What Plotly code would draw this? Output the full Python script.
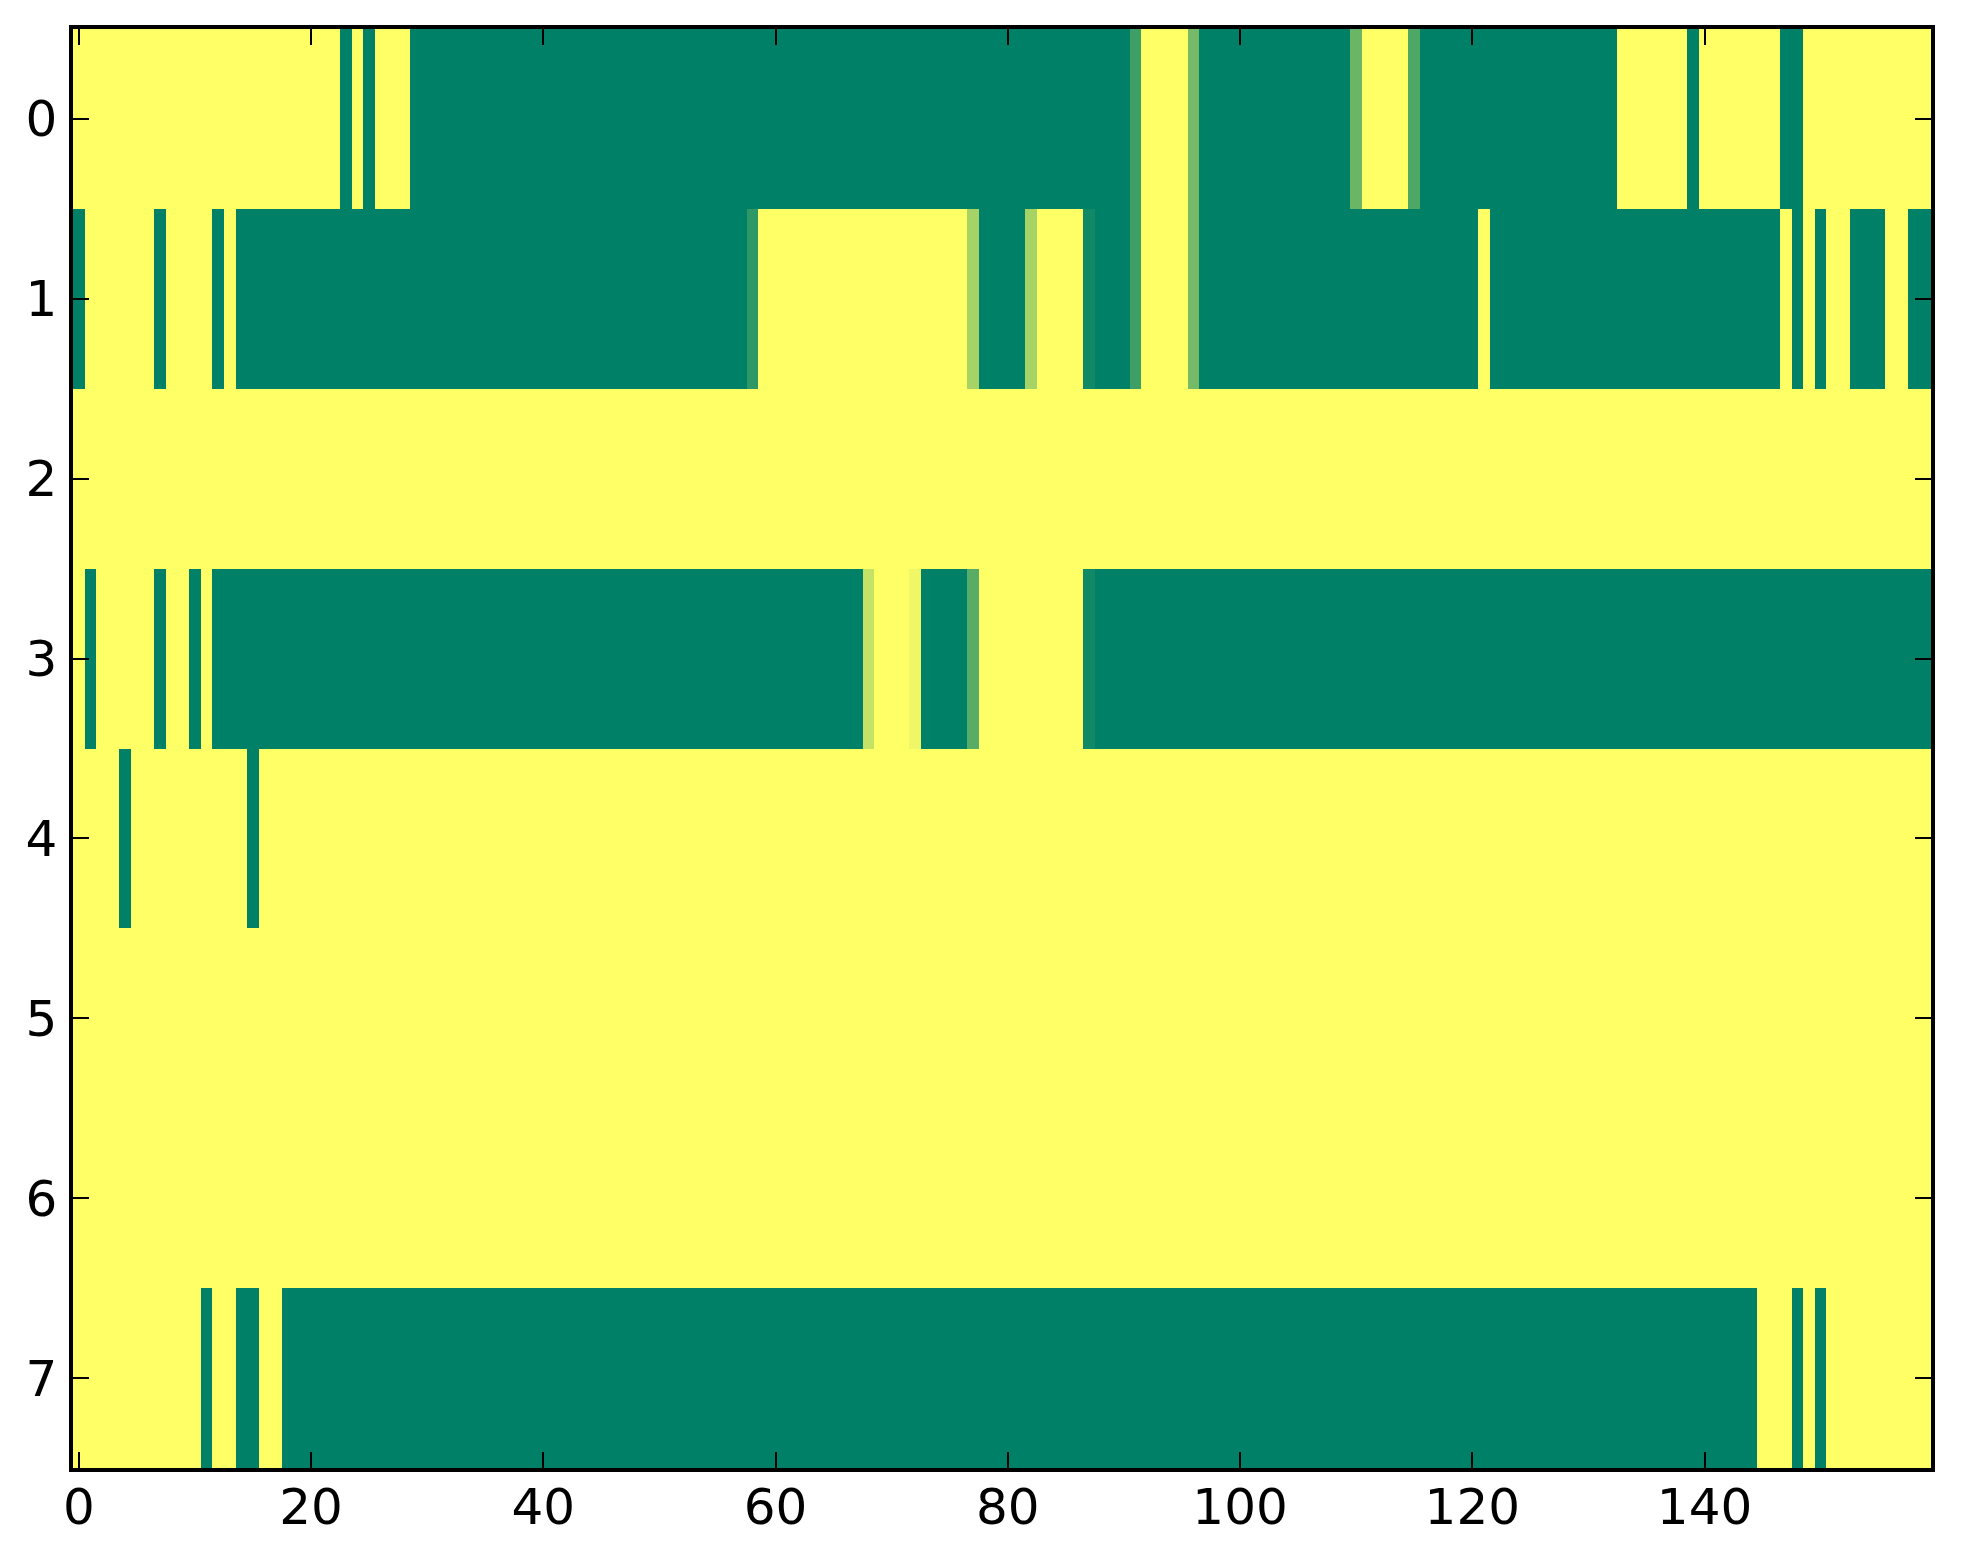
import plotly.graph_objects as go

# 8 rows x 160 columns, 0 = green end, 1 = yellow end of the "summer" map
row_0 = [
    1, 1, 1, 1, 1, 1, 1, 1, 1, 1, 1, 1, 1, 1, 1, 1, 1, 1, 1, 1,
    1, 1, 1, 0, 1, 0, 1, 1, 1, 0, 0, 0, 0, 0, 0, 0, 0, 0, 0, 0,
    0, 0, 0, 0, 0, 0, 0, 0, 0, 0, 0, 0, 0, 0, 0, 0, 0, 0, 0, 0,
    0, 0, 0, 0, 0, 0, 0, 0, 0, 0, 0, 0, 0, 0, 0, 0, 0, 0, 0, 0,
    0, 0, 0, 0, 0, 0, 0, 0, 0, 0, 0, .24, 1, 1, 1, 1, .46, 0, 0, 0,
    0, 0, 0, 0, 0, 0, 0, 0, 0, 0, .42, 1, 1, 1, 1, .31, 0, 0, 0, 0,
    0, 0, 0, 0, 0, 0, 0, 0, 0, 0, 0, 0, 0, 1, 1, 1, 1, 1, 1, 0,
    1, 1, 1, 1, 1, 1, 1, 0, 0, 1, 1, 1, 1, 1, 1, 1, 1, 1, 1, 1,
]
row_1 = [
    0, 1, 1, 1, 1, 1, 1, 0, 1, 1, 1, 1, 0, 1, 0, 0, 0, 0, 0, 0,
    0, 0, 0, 0, 0, 0, 0, 0, 0, 0, 0, 0, 0, 0, 0, 0, 0, 0, 0, 0,
    0, 0, 0, 0, 0, 0, 0, 0, 0, 0, 0, 0, 0, 0, 0, 0, 0, 0, .18, 1,
    1, 1, 1, 1, 1, 1, 1, 1, 1, 1, 1, 1, 1, 1, 1, 1, 1, .65, 0, 0,
    0, 0, .65, 1, 1, 1, 1, .07, 0, 0, 0, .24, 1, 1, 1, 1, .46, 0, 0, 0,
    0, 0, 0, 0, 0, 0, 0, 0, 0, 0, 0, 0, 0, 0, 0, 0, 0, 0, 0, 0,
    0, 1, 0, 0, 0, 0, 0, 0, 0, 0, 0, 0, 0, 0, 0, 0, 0, 0, 0, 0,
    0, 0, 0, 0, 0, 0, 0, 1, 0, 1, 0, 1, 1, 0, 0, 0, 1, 1, 0, 0,
]
row_2 = [
    1, 1, 1, 1, 1, 1, 1, 1, 1, 1, 1, 1, 1, 1, 1, 1, 1, 1, 1, 1,
    1, 1, 1, 1, 1, 1, 1, 1, 1, 1, 1, 1, 1, 1, 1, 1, 1, 1, 1, 1,
    1, 1, 1, 1, 1, 1, 1, 1, 1, 1, 1, 1, 1, 1, 1, 1, 1, 1, 1, 1,
    1, 1, 1, 1, 1, 1, 1, 1, 1, 1, 1, 1, 1, 1, 1, 1, 1, 1, 1, 1,
    1, 1, 1, 1, 1, 1, 1, 1, 1, 1, 1, 1, 1, 1, 1, 1, 1, 1, 1, 1,
    1, 1, 1, 1, 1, 1, 1, 1, 1, 1, 1, 1, 1, 1, 1, 1, 1, 1, 1, 1,
    1, 1, 1, 1, 1, 1, 1, 1, 1, 1, 1, 1, 1, 1, 1, 1, 1, 1, 1, 1,
    1, 1, 1, 1, 1, 1, 1, 1, 1, 1, 1, 1, 1, 1, 1, 1, 1, 1, 1, 1,
]
row_3 = [
    1, 0, 1, 1, 1, 1, 1, 0, 1, 1, 0, 1, 0, 0, 0, 0, 0, 0, 0, 0,
    0, 0, 0, 0, 0, 0, 0, 0, 0, 0, 0, 0, 0, 0, 0, 0, 0, 0, 0, 0,
    0, 0, 0, 0, 0, 0, 0, 0, 0, 0, 0, 0, 0, 0, 0, 0, 0, 0, 0, 0,
    0, 0, 0, 0, 0, 0, 0, 0, .77, 1, 1, 1, .94, 0, 0, 0, 0, .35, 1, 1,
    1, 1, 1, 1, 1, 1, 1, .07, 0, 0, 0, 0, 0, 0, 0, 0, 0, 0, 0, 0,
    0, 0, 0, 0, 0, 0, 0, 0, 0, 0, 0, 0, 0, 0, 0, 0, 0, 0, 0, 0,
    0, 0, 0, 0, 0, 0, 0, 0, 0, 0, 0, 0, 0, 0, 0, 0, 0, 0, 0, 0,
    0, 0, 0, 0, 0, 0, 0, 0, 0, 0, 0, 0, 0, 0, 0, 0, 0, 0, 0, 0,
]
row_4 = [
    1, 1, 1, 1, 0, 1, 1, 1, 1, 1, 1, 1, 1, 1, 1, 0, 1, 1, 1, 1,
    1, 1, 1, 1, 1, 1, 1, 1, 1, 1, 1, 1, 1, 1, 1, 1, 1, 1, 1, 1,
    1, 1, 1, 1, 1, 1, 1, 1, 1, 1, 1, 1, 1, 1, 1, 1, 1, 1, 1, 1,
    1, 1, 1, 1, 1, 1, 1, 1, 1, 1, 1, 1, 1, 1, 1, 1, 1, 1, 1, 1,
    1, 1, 1, 1, 1, 1, 1, 1, 1, 1, 1, 1, 1, 1, 1, 1, 1, 1, 1, 1,
    1, 1, 1, 1, 1, 1, 1, 1, 1, 1, 1, 1, 1, 1, 1, 1, 1, 1, 1, 1,
    1, 1, 1, 1, 1, 1, 1, 1, 1, 1, 1, 1, 1, 1, 1, 1, 1, 1, 1, 1,
    1, 1, 1, 1, 1, 1, 1, 1, 1, 1, 1, 1, 1, 1, 1, 1, 1, 1, 1, 1,
]
row_5 = [
    1, 1, 1, 1, 1, 1, 1, 1, 1, 1, 1, 1, 1, 1, 1, 1, 1, 1, 1, 1,
    1, 1, 1, 1, 1, 1, 1, 1, 1, 1, 1, 1, 1, 1, 1, 1, 1, 1, 1, 1,
    1, 1, 1, 1, 1, 1, 1, 1, 1, 1, 1, 1, 1, 1, 1, 1, 1, 1, 1, 1,
    1, 1, 1, 1, 1, 1, 1, 1, 1, 1, 1, 1, 1, 1, 1, 1, 1, 1, 1, 1,
    1, 1, 1, 1, 1, 1, 1, 1, 1, 1, 1, 1, 1, 1, 1, 1, 1, 1, 1, 1,
    1, 1, 1, 1, 1, 1, 1, 1, 1, 1, 1, 1, 1, 1, 1, 1, 1, 1, 1, 1,
    1, 1, 1, 1, 1, 1, 1, 1, 1, 1, 1, 1, 1, 1, 1, 1, 1, 1, 1, 1,
    1, 1, 1, 1, 1, 1, 1, 1, 1, 1, 1, 1, 1, 1, 1, 1, 1, 1, 1, 1,
]
row_6 = [
    1, 1, 1, 1, 1, 1, 1, 1, 1, 1, 1, 1, 1, 1, 1, 1, 1, 1, 1, 1,
    1, 1, 1, 1, 1, 1, 1, 1, 1, 1, 1, 1, 1, 1, 1, 1, 1, 1, 1, 1,
    1, 1, 1, 1, 1, 1, 1, 1, 1, 1, 1, 1, 1, 1, 1, 1, 1, 1, 1, 1,
    1, 1, 1, 1, 1, 1, 1, 1, 1, 1, 1, 1, 1, 1, 1, 1, 1, 1, 1, 1,
    1, 1, 1, 1, 1, 1, 1, 1, 1, 1, 1, 1, 1, 1, 1, 1, 1, 1, 1, 1,
    1, 1, 1, 1, 1, 1, 1, 1, 1, 1, 1, 1, 1, 1, 1, 1, 1, 1, 1, 1,
    1, 1, 1, 1, 1, 1, 1, 1, 1, 1, 1, 1, 1, 1, 1, 1, 1, 1, 1, 1,
    1, 1, 1, 1, 1, 1, 1, 1, 1, 1, 1, 1, 1, 1, 1, 1, 1, 1, 1, 1,
]
row_7 = [
    1, 1, 1, 1, 1, 1, 1, 1, 1, 1, 1, 0, 1, 1, 0, 0, 1, 1, 0, 0,
    0, 0, 0, 0, 0, 0, 0, 0, 0, 0, 0, 0, 0, 0, 0, 0, 0, 0, 0, 0,
    0, 0, 0, 0, 0, 0, 0, 0, 0, 0, 0, 0, 0, 0, 0, 0, 0, 0, 0, 0,
    0, 0, 0, 0, 0, 0, 0, 0, 0, 0, 0, 0, 0, 0, 0, 0, 0, 0, 0, 0,
    0, 0, 0, 0, 0, 0, 0, 0, 0, 0, 0, 0, 0, 0, 0, 0, 0, 0, 0, 0,
    0, 0, 0, 0, 0, 0, 0, 0, 0, 0, 0, 0, 0, 0, 0, 0, 0, 0, 0, 0,
    0, 0, 0, 0, 0, 0, 0, 0, 0, 0, 0, 0, 0, 0, 0, 0, 0, 0, 0, 0,
    0, 0, 0, 0, 0, 1, 1, 1, 0, 1, 0, 1, 1, 1, 1, 1, 1, 1, 1, 1,
]

x_ticks = [0, 20, 40, 60, 80, 100, 120, 140]
y_ticks = [0, 1, 2, 3, 4, 5, 6, 7]

z = [row_0, row_1, row_2, row_3, row_4, row_5, row_6, row_7]

# matplotlib "summer": linear from (0, .5, .4) to (1, 1, .4)
summer = [[0.0, "#008066"], [1.0, "#ffff66"]]

fig = go.Figure()
fig.add_trace(go.Heatmap(
    z=z,
    colorscale=summer,
    zmin=0,
    zmax=1,
    showscale=False,
    hoverinfo="skip",
))

axis_style = dict(
    showgrid=False,
    zeroline=False,
    showline=True,
    linecolor="black",
    linewidth=3.5,
    mirror="allticks",
    ticks="inside",
    ticklen=16,
    tickwidth=2,
    tickcolor="black",
    tickfont=dict(family="DejaVu Sans", size=50, color="black"),
)

fig.update_xaxes(
    range=[-0.5, 159.5],
    tickvals=x_ticks,
    ticktext=[str(t) for t in x_ticks],
    ticklabelstandoff=-8,
    **axis_style,
)
fig.update_yaxes(
    range=[7.5, -0.5],
    tickvals=y_ticks,
    ticktext=[str(t) for t in y_ticks],
    ticklabelstandoff=2,
    **axis_style,
)

fig.update_layout(
    width=1963,
    height=1564,
    margin=dict(l=73, r=32, t=29, b=96, pad=0),
    paper_bgcolor="white",
    plot_bgcolor="white",
    showlegend=False,
)

fig.write_html(
    "out.html",
    config={"displayModeBar": False},
    post_script="document.body.style.margin='0';",
)
